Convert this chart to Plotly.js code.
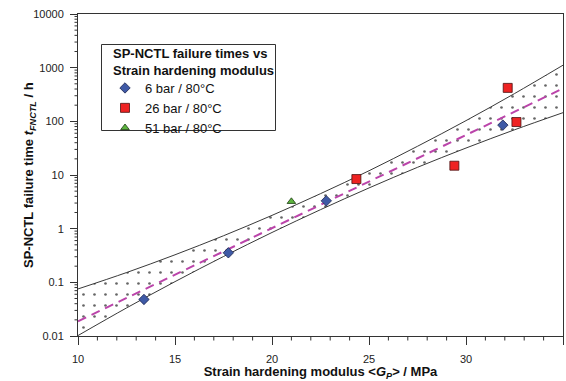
<!DOCTYPE html>
<html>
<head>
<meta charset="utf-8">
<script src="https://cdn.plot.ly/plotly-3.0.1.min.js"></script>
<style>html,body{margin:0;padding:0;background:#fff;}#chart{width:566px;height:381px;}</style>
</head>
<body>
<div id="chart"></div>
<script>
// ---- data ----
const P6_X = [13.4, 17.75, 22.8, 31.9];
const P6_Y = [0.048, 0.355, 3.3, 85];
const P26_X = [24.35, 29.4, 32.15, 32.6];
const P26_Y = [8.4, 14.9, 420, 97];
const P51_X = [21.0];
const P51_Y = [3.2];

// band (upper / lower limits) and fitted line
const BAND_X = [10, 12.5, 15, 17.5, 20, 22.5, 25, 27.5, 30, 32.5, 35];
const BAND_UPPER = [0.0753, 0.152, 0.326, 0.738, 1.77, 4.49, 12.0, 34.3, 103, 329, 1112];
const BAND_LOWER = [0.0102, 0.0333, 0.103, 0.303, 0.849, 2.26, 5.74, 13.9, 31.8, 69.5, 145];
const FIT_X = [10, 35];
const FIT_Y = [0.0188, 410];

const X_TICKS = [10, 15, 20, 25, 30, 35];
const X_LABELS = ['10', '15', '20', '25', '30', '35'];
const Y_TICKS = [0.01, 0.1, 1, 10, 100, 1000, 10000];
const Y_LABELS = ['0.01', '0.1', '1', '10', '100', '1000', '10000'];

const LEGEND_NAMES = ['6 bar / 80°C', '26 bar / 80°C', '51 bar / 80°C'];
const LEGEND_TITLE = 'SP-NCTL failure times vs<br>Strain hardening modulus';
const X_TITLE = 'Strain hardening modulus &lt;<i>G</i><sub><i>P</i></sub>&gt; / MPa';
const Y_TITLE = 'SP-NCTL failure time <i>t</i><sub><i>FNCTL</i></sub> / h';

const FONT = 'Liberation Sans, Arial, sans-serif';
const X_RANGE = [X_TICKS[0], X_TICKS[X_TICKS.length - 1]];
const Y_RANGE = [Math.log10(Y_TICKS[0]), Math.log10(Y_TICKS[Y_TICKS.length - 1])];
const AXCOL = '#333';

const traces = [
  {x: BAND_X, y: BAND_UPPER, mode: 'lines', line: {color: '#222', width: 0.9, shape: 'spline'},
   showlegend: false, hoverinfo: 'skip'},
  {x: BAND_X, y: BAND_LOWER, mode: 'lines', line: {color: '#222', width: 0.9, shape: 'spline'},
   fill: 'tonexty', fillcolor: 'rgba(0,0,0,0)',
   fillpattern: {shape: '.', size: 11, solidity: 0.045, fgcolor: '#666', bgcolor: 'rgba(0,0,0,0)'},
   showlegend: false, hoverinfo: 'skip'},
  {x: FIT_X, y: FIT_Y, mode: 'lines', line: {color: '#bb44aa', width: 2, dash: '9px,6px'},
   showlegend: false, hoverinfo: 'skip'},
  {x: P6_X, y: P6_Y, mode: 'markers', name: LEGEND_NAMES[0],
   marker: {symbol: 'diamond', size: 8, color: '#3f5aa6', line: {color: '#1c2550', width: 0.8}}},
  {x: P26_X, y: P26_Y, mode: 'markers', name: LEGEND_NAMES[1],
   marker: {symbol: 'square', size: 9, color: '#ee2222', line: {color: '#4a1010', width: 0.8}}},
  {x: P51_X, y: P51_Y, mode: 'markers', name: LEGEND_NAMES[2],
   marker: {symbol: 'triangle-up', size: 7.5, color: '#5cb43e', line: {color: '#1d3a12', width: 0.8}}}
];

const PLOT_W = 485, PLOT_H = 322;
const PX = px => (px - 78) / PLOT_W;
const PY = py => (336 - py) / PLOT_H;

// minor tick marks (axis decoration), drawn in paper coordinates outside the plot
const minorShapes = [];
const xToPaper = v => (v - X_RANGE[0]) / (X_RANGE[1] - X_RANGE[0]);
const yToPaper = v => (Math.log10(v) - Y_RANGE[0]) / (Y_RANGE[1] - Y_RANGE[0]);
for (let v = X_RANGE[0] + 1; v < X_RANGE[1]; v++) {
  if (X_TICKS.indexOf(v) !== -1) continue;
  const p = xToPaper(v);
  minorShapes.push({type: 'line', xref: 'paper', yref: 'paper',
    x0: p, x1: p, y0: 0, y1: -4.5 / PLOT_H, line: {color: AXCOL, width: 1}, layer: 'above'});
}
for (let d = Y_RANGE[0]; d < Y_RANGE[1]; d++) {
  for (let k = 2; k <= 9; k++) {
    const p = yToPaper(k * Math.pow(10, d));
    minorShapes.push({type: 'line', xref: 'paper', yref: 'paper',
      x0: -3.5 / PLOT_W, x1: 0, y0: p, y1: p, line: {color: AXCOL, width: 1}, layer: 'above'});
  }
}

const tickFont = {family: FONT, size: 11, color: '#222'};

const layout = {
  width: 566, height: 381,
  margin: {l: 78, r: 3, t: 14, b: 45},
  paper_bgcolor: '#fff', plot_bgcolor: '#fff',
  font: {family: FONT, size: 11, color: '#222'},
  xaxis: {
    type: 'linear', range: X_RANGE,
    tickmode: 'array', tickvals: X_TICKS, ticktext: X_LABELS,
    ticks: 'outside', ticklen: 8, tickwidth: 1, tickcolor: AXCOL, ticklabelstandoff: 5,
    showline: true, linecolor: AXCOL, linewidth: 1, mirror: true,
    showgrid: false, zeroline: false, tickfont: tickFont,
    title: {text: X_TITLE, font: {family: FONT, size: 13, color: '#111', weight: 'bold'}, standoff: 2}
  },
  yaxis: {
    type: 'log', range: Y_RANGE,
    tickmode: 'array', tickvals: Y_TICKS, ticktext: Y_LABELS,
    ticks: 'outside', ticklen: 7, tickwidth: 1, tickcolor: AXCOL, ticklabelstandoff: 4,
    showline: true, linecolor: AXCOL, linewidth: 1, mirror: true,
    showgrid: false, zeroline: false, tickfont: tickFont
  },
  shapes: [{
    type: 'rect', xref: 'paper', yref: 'paper', layer: 'above',
    x0: PX(101.5), x1: PX(275.5), y0: PY(130.5), y1: PY(44.5),
    line: {color: AXCOL, width: 1}, fillcolor: '#fff'
  }].concat(minorShapes),
  annotations: [
    {text: Y_TITLE, textangle: -90, showarrow: false,
     xref: 'paper', yref: 'paper', x: -0.101, y: 0.5, xanchor: 'center', yanchor: 'middle',
     font: {family: FONT, size: 13, color: '#111', weight: 'bold'}},
    {text: LEGEND_TITLE, showarrow: false, xref: 'paper', yref: 'paper', align: 'left',
     x: PX(110.5), y: PY(62), xanchor: 'left', yanchor: 'middle',
     font: {family: FONT, size: 13, color: '#111', weight: 'bold'}}
  ],
  legend: {
    x: PX(105), y: PY(73), xanchor: 'left', yanchor: 'top', traceorder: 'normal',
    bgcolor: 'rgba(0,0,0,0)', borderwidth: 0,
    font: {family: FONT, size: 13, color: '#111'}
  },
  showlegend: true
};

Plotly.newPlot('chart', traces, layout, {displayModeBar: false, staticPlot: true});
</script>
</body>
</html>
